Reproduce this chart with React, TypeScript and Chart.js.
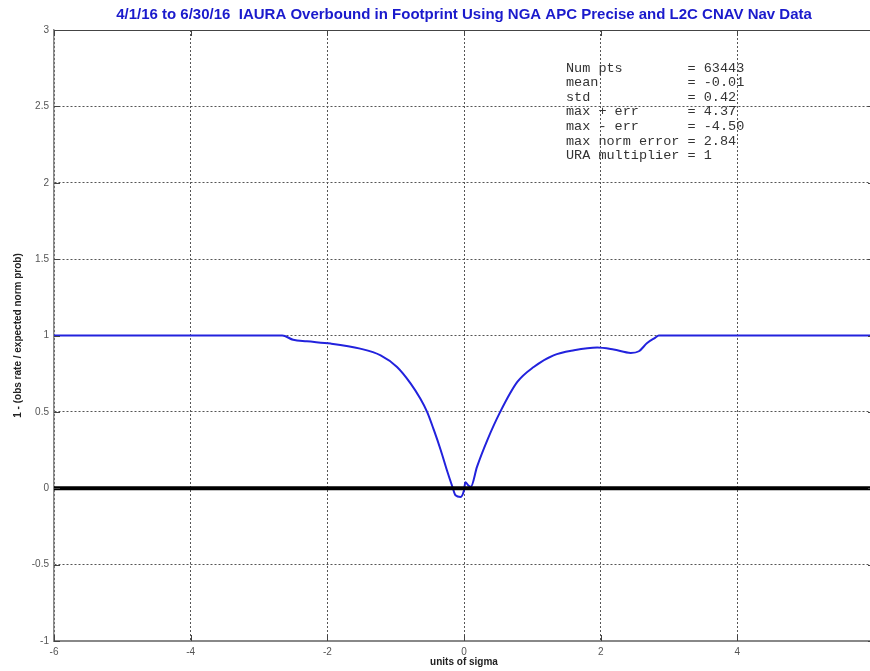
import React, { useEffect, useRef } from 'react';
import { Chart, registerables } from 'chart.js';
Chart.register(...registerables);

const titleText = '4/1/16 to 6/30/16  IAURA Overbound in Footprint Using NGA APC Precise and L2C CNAV Nav Data';
const xAxisTitle = 'units of sigma';
const yAxisTitle = '1 - (obs rate / expected norm prob)';

const curveX = [-6, -4, -2.66, -2.5, -2.3, -1.95, -1.52, -1.22, -0.98, -0.78, -0.64, -0.54, -0.44, -0.34, -0.25, -0.17, -0.125, -0.05, 0.0, 0.02, 0.06, 0.1, 0.19, 0.34, 0.53, 0.78, 1.02, 1.31, 1.61, 1.95, 2.19, 2.44, 2.56, 2.68, 2.8, 2.85, 4, 6];
const curveY = [1, 1, 1, 0.972, 0.962, 0.947, 0.914, 0.87, 0.794, 0.685, 0.587, 0.5, 0.38, 0.249, 0.118, 0.01, -0.046, -0.057, -0.013, 0.04, 0.02, 0.01, 0.14, 0.314, 0.5, 0.696, 0.794, 0.87, 0.903, 0.921, 0.908, 0.886, 0.897, 0.951, 0.986, 1, 1, 1];
const zeroLineX = [-6, 6];
const zeroLineY = [0, 0];

const statLabels = ['Num pts', 'mean', 'std', 'max + err', 'max - err', 'max norm error', 'URA multiplier'];
const statValues = ['63443', '-0.01', '0.42', '4.37', '-4.50', '2.84', '1'];

const xMin = -6, xMax = 6, xStep = 2;
const yMin = -1, yMax = 3, yStep = 0.5;

const CANVAS_W = 880;
const CANVAS_H = 671;

const framePlugin = {
  id: 'frame',
  afterDraw(chart: any) {
    const { ctx, chartArea, scales } = chart;
    const { left, right, top, bottom } = chartArea;
    ctx.save();
    ctx.strokeStyle = '#444';
    ctx.lineWidth = 1;
    ctx.beginPath();
    ctx.moveTo(left, top + 0.5);
    ctx.lineTo(right, top + 0.5);
    ctx.stroke();
    ctx.beginPath();
    for (let v = xMin; v <= xMax; v += xStep) {
      const px = Math.round(scales.x.getPixelForValue(v)) + 0.5;
      ctx.moveTo(px, top);
      ctx.lineTo(px, top + 6);
      ctx.moveTo(px, bottom);
      ctx.lineTo(px, bottom - 6);
    }
    for (let v = yMin; v <= yMax; v += yStep) {
      const py = Math.round(scales.y.getPixelForValue(v)) + 0.5;
      ctx.moveTo(left, py);
      ctx.lineTo(left + 6, py);
      ctx.moveTo(right, py);
      ctx.lineTo(right - 6, py);
    }
    ctx.stroke();
    ctx.fillStyle = '#333';
    ctx.font = '13.5px "Liberation Mono", "Courier New", monospace';
    ctx.textBaseline = 'middle';
    ctx.textAlign = 'left';
    for (let i = 0; i < statLabels.length; i++) {
      const line = statLabels[i].padEnd(15, ' ') + '= ' + statValues[i];
      ctx.fillText(line, 566, 68 + i * 14.6);
    }
    ctx.restore();
  },
};

export default function App() {
  const ref = useRef<HTMLCanvasElement | null>(null);
  useEffect(() => {
    if (!ref.current) return;
    const chart = new Chart(ref.current, {
      type: 'scatter',
      data: {
        datasets: [
          {
            label: 'zero',
            data: zeroLineX.map((x, i) => ({ x, y: zeroLineY[i] })),
            showLine: true,
            borderColor: '#000',
            borderWidth: 4,
            pointRadius: 0,
          },
          {
            label: 'curve',
            data: curveX.map((x, i) => ({ x, y: curveY[i] })),
            showLine: true,
            borderColor: '#2222dd',
            borderWidth: 2,
            pointRadius: 0,
            cubicInterpolationMode: 'monotone',
          },
        ],
      },
      options: {
        animation: false,
        responsive: false,
        maintainAspectRatio: false,
        layout: { padding: { left: 0, right: 6, top: 0, bottom: 0 } },
        plugins: {
          legend: { display: false },
          tooltip: { enabled: false },
          title: {
            display: true,
            text: titleText,
            color: '#1a1acc',
            fullSize: false,
            font: { family: 'Arial, "Liberation Sans", sans-serif', size: 15, weight: 'bold' },
            padding: { top: 6, bottom: 6 },
          },
        },
        scales: {
          x: {
            type: 'linear',
            min: xMin,
            max: xMax,
            afterFit: (s: any) => { s.height = 30; },
            ticks: {
              stepSize: xStep,
              color: '#555',
              padding: 5,
              font: { family: 'Arial, "Liberation Sans", sans-serif', size: 10 },
              callback: (v: any) => (v === xMax ? '' : String(v)),
            },
            grid: { color: '#555', lineWidth: 1, drawTicks: false } as any,
            border: { display: true, color: '#888', width: 2, dash: [2, 2] } as any,
            title: {
              display: true,
              text: xAxisTitle,
              color: '#222',
              font: { family: 'Arial, "Liberation Sans", sans-serif', size: 10, weight: 'bold' },
              padding: { top: 0, bottom: 3 },
            },
          },
          y: {
            type: 'linear',
            min: yMin,
            max: yMax,
            afterFit: (s: any) => { s.width = 54; },
            ticks: {
              stepSize: yStep,
              color: '#555',
              padding: 5,
              font: { family: 'Arial, "Liberation Sans", sans-serif', size: 10 },
              callback: (v: any) => String(v),
            },
            grid: { color: '#555', lineWidth: 1, drawTicks: false } as any,
            border: { display: true, color: '#888', width: 1.5, dash: [2, 2] } as any,
            title: {
              display: true,
              text: yAxisTitle,
              color: '#222',
              font: { family: 'Arial, "Liberation Sans", sans-serif', size: 10, weight: 'bold' },
              padding: { top: 12, bottom: 0 },
            },
          },
        },
      },
      plugins: [framePlugin],
    } as any);
    return () => chart.destroy();
  }, []);
  return (
    <div style={{ position: 'fixed', left: 0, top: 0, width: 870, height: CANVAS_H, overflow: 'hidden', background: '#fff' }}>
      <canvas ref={ref} width={CANVAS_W} height={CANVAS_H} style={{ width: CANVAS_W, height: CANVAS_H, display: 'block' }} />
    </div>
  );
}
